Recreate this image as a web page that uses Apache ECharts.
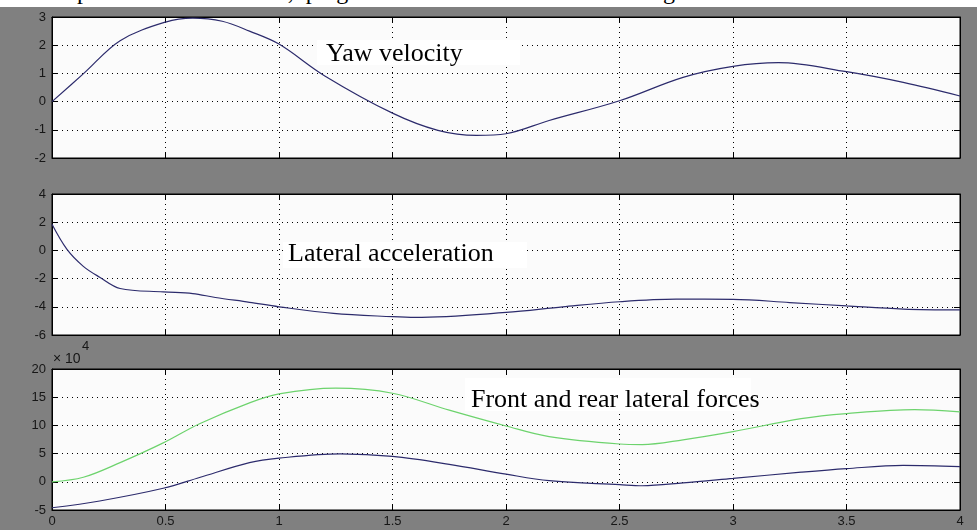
<!DOCTYPE html>
<html>
<head>
<meta charset="utf-8">
<script src="https://cdn.jsdelivr.net/npm/echarts@6/dist/echarts.min.js"></script>
<style>
  html, body { margin: 0; padding: 0; background: #808080; }
  #wrap { position: relative; width: 977px; height: 530px; overflow: hidden; }
  #chart { position: absolute; left: 0; top: 0; width: 977px; height: 530px; }
  #strip { position: absolute; left: 0; top: 0; width: 977px; height: 7px; background: #fff; overflow: hidden; z-index: 5; }
  #strip span { position: absolute; left: 45px; top: -21px; font-family: "Liberation Serif", "Times New Roman", serif; font-size: 24px; line-height: 24px; white-space: nowrap; color: #000; word-spacing: 6px; }
</style>
</head>
<body>
<div id="wrap">
  <div id="chart"></div>
  <div id="strip"><span>e speed of 80 km / h , plug into the model and then we get the curves as shown in Fig</span></div>
</div>
<script>
// ---- data ----
const xTickLabels = ['0', '0.5', '1', '1.5', '2', '2.5', '3', '3.5', '4'];

// Yaw velocity
const tYaw = [0, 0.14, 0.3, 0.5, 0.62, 0.75, 0.87, 1.0, 1.2, 1.5, 1.7, 1.87, 2.0, 2.19, 2.5, 2.78, 3.0, 3.2, 3.5, 3.75, 4.0];
const yawVel = [0, 1.0, 2.16, 2.82, 2.96, 2.85, 2.5, 2.04, 0.92, -0.41, -1.02, -1.2, -1.14, -0.67, 0.03, 0.86, 1.25, 1.38, 1.06, 0.68, 0.2];

// Lateral acceleration
const tLat = [0, 0.066, 0.138, 0.21, 0.3, 0.49, 0.62, 0.72, 0.87, 1.0, 1.24, 1.5, 1.6, 2.0, 2.25, 2.5, 2.75, 3.0, 3.25, 3.5, 3.75, 4.0];
const latAcc = [1.85, 0.07, -1.13, -1.9, -2.7, -2.94, -3.06, -3.34, -3.68, -4.0, -4.47, -4.7, -4.75, -4.4, -4.0, -3.64, -3.46, -3.47, -3.7, -3.94, -4.16, -4.22];

// Front and rear lateral forces (x 10^4)
const tGreen = [0, 0.138, 0.3, 0.49, 0.65, 0.87, 1.0, 1.25, 1.5, 1.75, 2.0, 2.19, 2.5, 2.6, 2.78, 3.0, 3.3, 3.5, 3.8, 4.0];
const forceGreen = [0, 0.8, 3.4, 6.9, 10.3, 14.0, 15.6, 16.6, 15.7, 12.7, 9.9, 8.0, 6.7, 6.6, 7.45, 8.9, 11.2, 12.1, 12.8, 12.4];
const tBlue = [0, 0.21, 0.49, 0.65, 0.87, 1.0, 1.27, 1.5, 1.75, 2.0, 2.19, 2.5, 2.6, 2.78, 3.0, 3.3, 3.5, 3.75, 4.0];
const forceBlue = [-4.6, -3.4, -1.15, 0.77, 3.4, 4.2, 4.95, 4.5, 3.1, 1.35, 0.2, -0.5, -0.7, -0.2, 0.6, 1.7, 2.34, 2.9, 2.7];

const yRanges = [
  { min: -2, max: 3, interval: 1 },
  { min: -6, max: 4, interval: 2 },
  { min: -5, max: 20, interval: 5 }
];
const annotations = ['Yaw velocity', 'Lateral acceleration', 'Front and rear lateral forces'];

// ---- layout / style ----
const gridTops = [17, 194, 369];
const PLOT_L = 52, PLOT_W = 908, PLOT_H = 141;
const BLUE = '#2c2b6c', GREEN = '#6dd36d';
const labelStyle = { color: '#161616', fontFamily: 'Liberation Sans, Arial, sans-serif', fontSize: 13 };

function pairs(t, v) { return t.map((x, i) => [x, v[i]]); }

const grid = [], xAxis = [], yAxis = [];
gridTops.forEach((top, i) => {
  grid.push({ left: PLOT_L, top: top, width: PLOT_W, height: PLOT_H, show: true,
              backgroundColor: '#fbfbfb', borderColor: '#000', borderWidth: 1 });
  xAxis.push({
    type: 'value', gridIndex: i, min: 0, max: 4, interval: 0.5, position: 'bottom',
    axisLine: { show: true, onZero: false, lineStyle: { color: '#000', width: 1 } },
    axisTick: { show: true, inside: true, length: 6, lineStyle: { color: '#000' } },
    axisLabel: Object.assign({ show: i === 2, margin: 5,
      formatter: v => xTickLabels[Math.round(v * 2)] }, labelStyle),
    splitLine: { show: true, lineStyle: { color: '#000', type: [1, 4], width: 1 } }
  });
  xAxis.push({
    type: 'value', gridIndex: i, min: 0, max: 4, interval: 0.5, position: 'top',
    axisLine: { show: true, onZero: false, lineStyle: { color: '#000', width: 1 } },
    axisTick: { show: true, inside: true, length: 6, lineStyle: { color: '#000' } },
    axisLabel: { show: false }, splitLine: { show: false }
  });
  const r = yRanges[i];
  yAxis.push({
    type: 'value', gridIndex: i, min: r.min, max: r.max, interval: r.interval, position: 'left',
    axisLine: { show: true, onZero: false, lineStyle: { color: '#000', width: 1 } },
    axisTick: { show: true, inside: true, length: 6, lineStyle: { color: '#000' } },
    axisLabel: Object.assign({ margin: 6 }, labelStyle),
    splitLine: { show: true, lineStyle: { color: '#000', type: [1, 4], width: 1 } }
  });
  yAxis.push({
    type: 'value', gridIndex: i, min: r.min, max: r.max, interval: r.interval, position: 'right',
    axisLine: { show: true, onZero: false, lineStyle: { color: '#000', width: 1 } },
    axisTick: { show: true, inside: true, length: 6, lineStyle: { color: '#000' } },
    axisLabel: { show: false }, splitLine: { show: false }
  });
});

function lineSeries(axisIdx, data, color) {
  return {
    type: 'line', xAxisIndex: axisIdx * 2, yAxisIndex: axisIdx * 2, data: data,
    showSymbol: false, smooth: 0.35, silent: true, z: 3,
    lineStyle: { color: color, width: 1.2 }
  };
}

const serif = '"Liberation Serif", "Times New Roman", serif';
function annot(text, x, y, boxW, boxH, bx, by) {
  return [
    { type: 'rect', shape: { x: bx, y: by, width: boxW, height: boxH }, style: { fill: '#fff' }, z: 10 },
    { type: 'text', x: x, y: y, style: { text: text, font: '26px ' + serif, fill: '#000', textVerticalAlign: 'bottom' }, z: 11 }
  ];
}

const graphic = [].concat(
  annot(annotations[0], 326, 67, 203, 25, 317, 40),
  annot(annotations[1], 288, 267, 244, 26, 283, 242),
  annot(annotations[2], 471, 413, 286, 33, 465, 378),
  [{ type: 'text', x: 53, y: 352,
     style: { text: '× 10', font: '14px "Liberation Sans", Arial, sans-serif', fill: '#161616' }, z: 11 },
   { type: 'text', x: 82, y: 340,
     style: { text: '4', font: '13px "Liberation Sans", Arial, sans-serif', fill: '#161616' }, z: 11 }]
);

const chart = echarts.init(document.getElementById('chart'), null, { renderer: 'canvas' });
chart.setOption({
  backgroundColor: '#808080',
  animation: false,
  grid: grid, xAxis: xAxis, yAxis: yAxis,
  series: [
    lineSeries(0, pairs(tYaw, yawVel), BLUE),
    lineSeries(1, pairs(tLat, latAcc), BLUE),
    lineSeries(2, pairs(tGreen, forceGreen), GREEN),
    lineSeries(2, pairs(tBlue, forceBlue), BLUE)
  ],
  graphic: graphic
});
</script>
</body>
</html>
